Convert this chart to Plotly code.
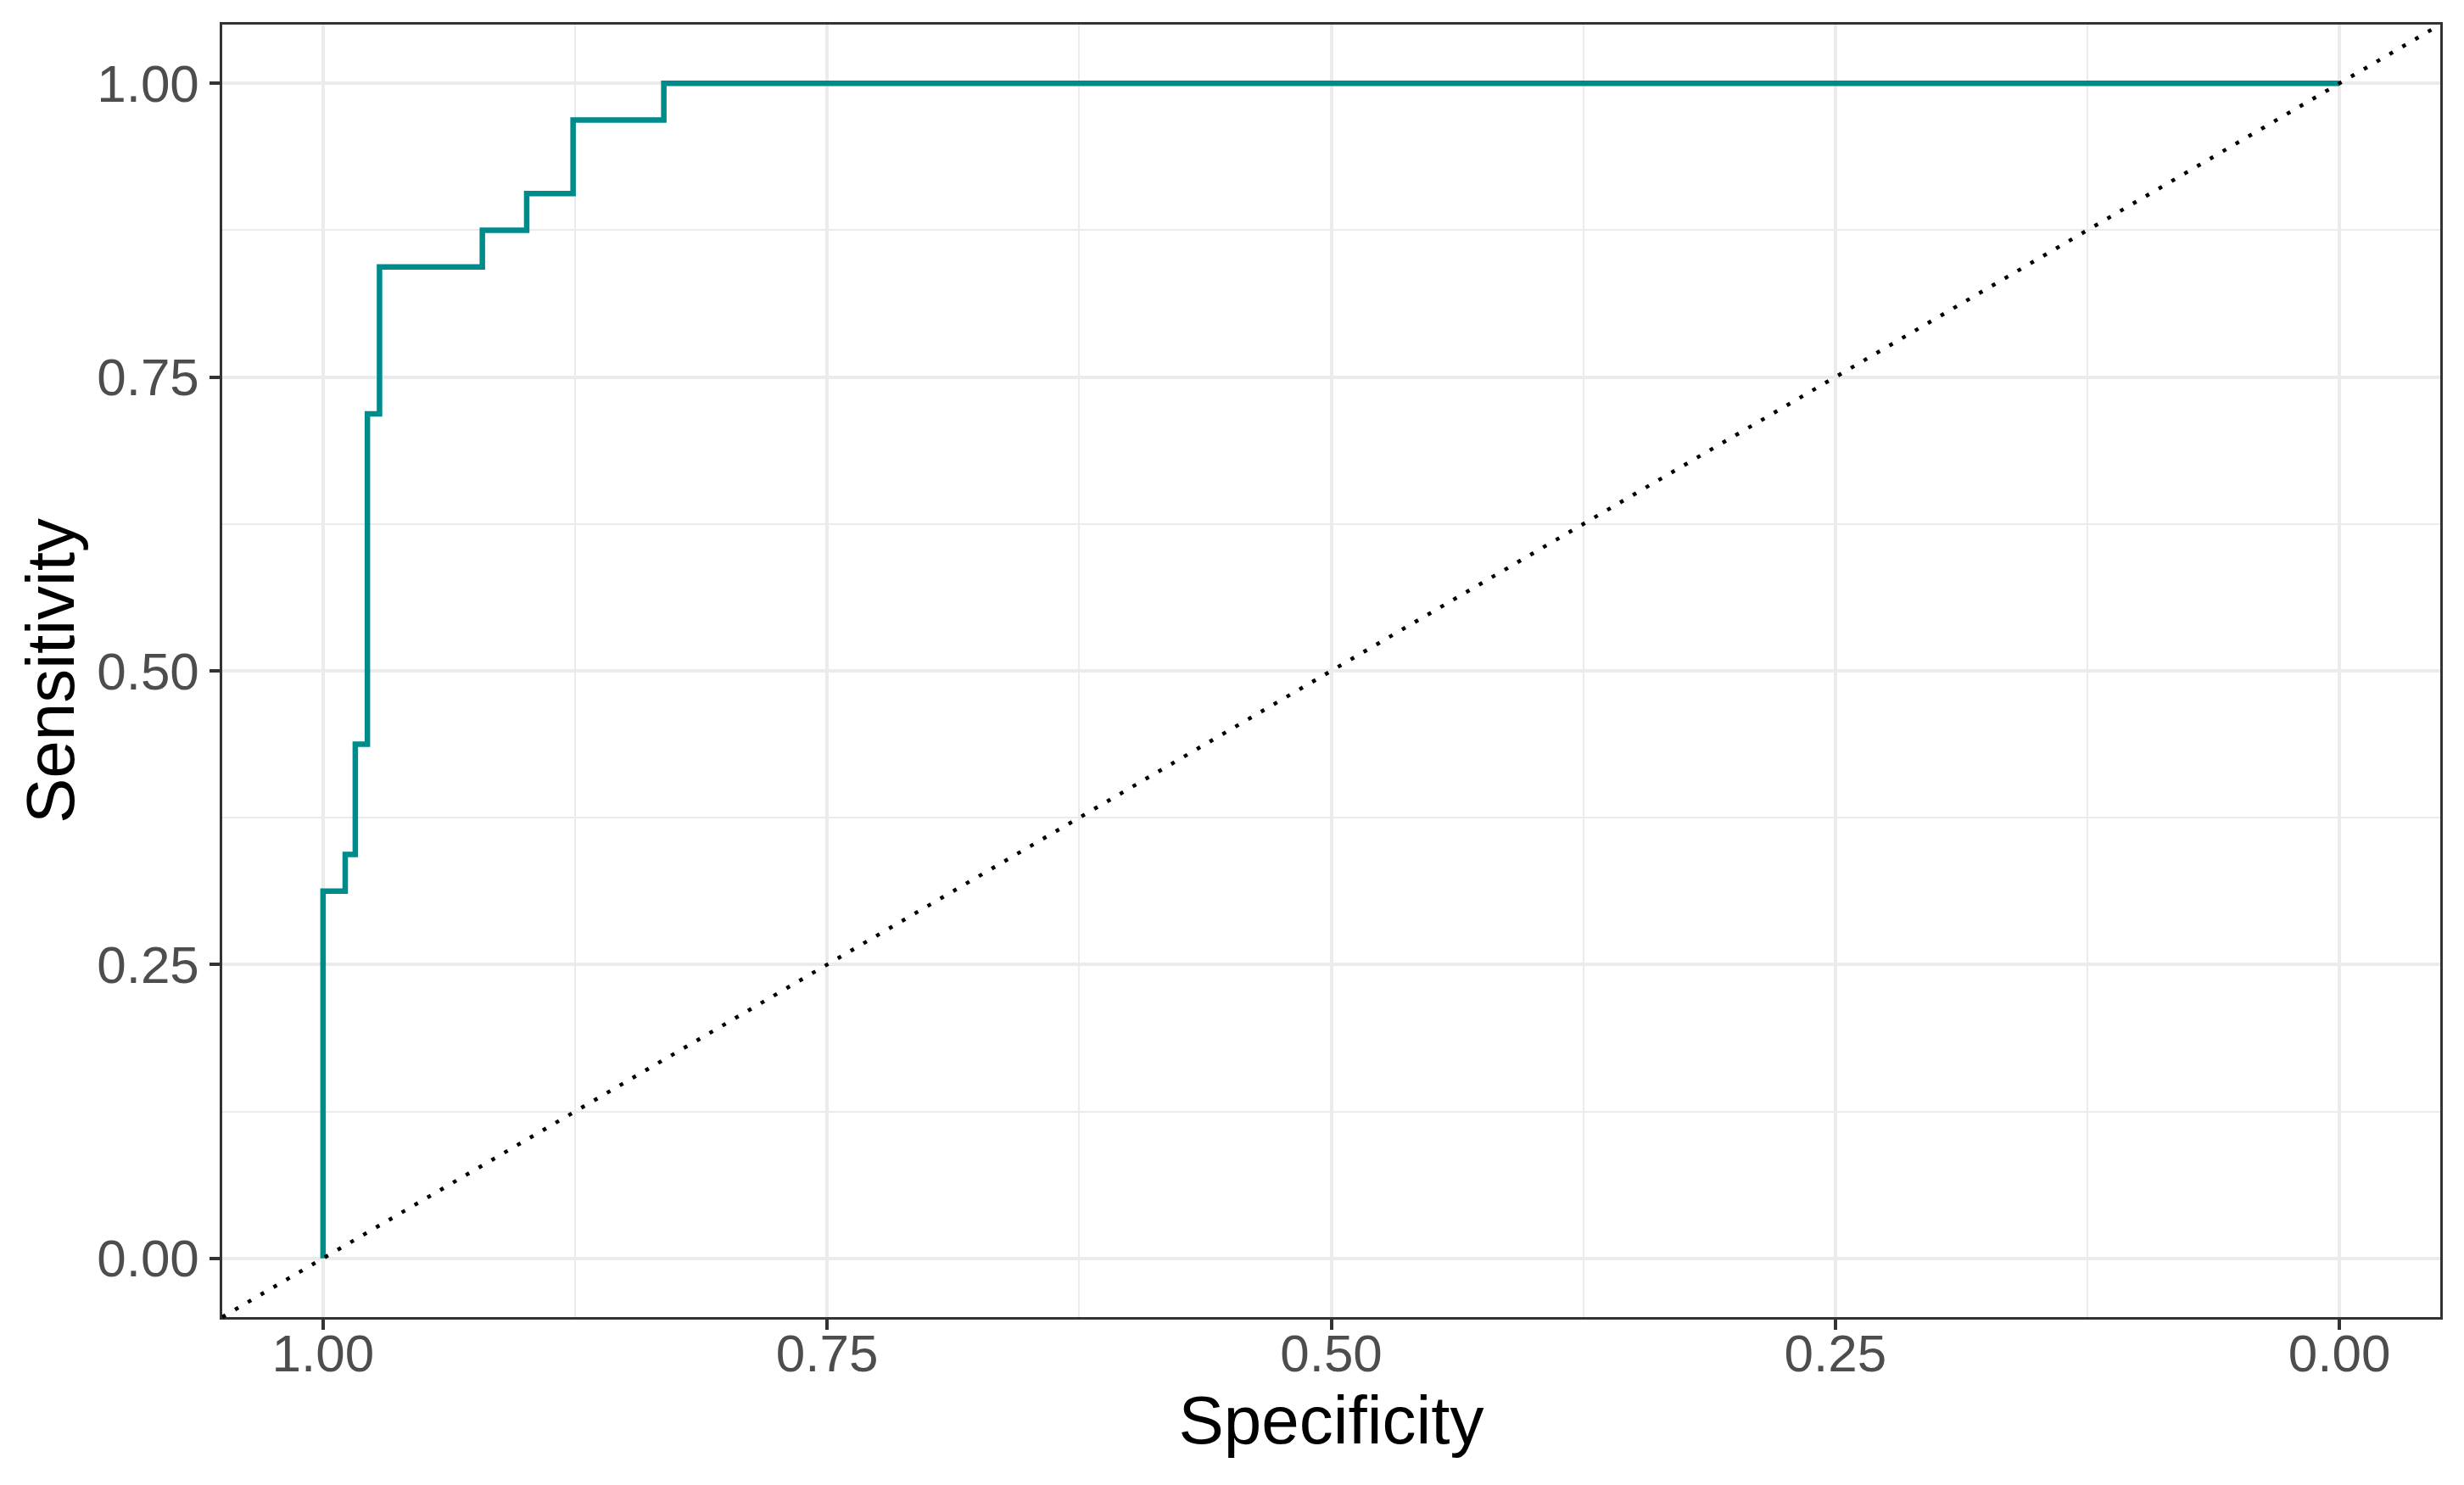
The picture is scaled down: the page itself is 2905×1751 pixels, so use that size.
import plotly.graph_objects as go

# ROC curve points (threshold corners)
specificity = [1.000, 1.000, 0.989, 0.984, 0.978, 0.972, 0.921, 0.899, 0.876, 0.831, 0.000]
sensitivity = [0.000, 0.3125, 0.34375, 0.4375, 0.71875, 0.84375, 0.875, 0.90625, 0.96875, 1.000, 1.000]

tick_vals = [0.0, 0.25, 0.5, 0.75, 1.0]
tick_text = ["0.00", "0.25", "0.50", "0.75", "1.00"]
minor_vals = [0.125, 0.375, 0.625, 0.875]

FONT = "Liberation Sans, Arial, sans-serif"
GRID = "#EBEBEB"
BORDER = "#333333"

fig = go.Figure()
fig.add_trace(go.Scatter(
    x=specificity, y=sensitivity, mode="lines",
    line=dict(color="#008B8B", width=6.5, shape="hv"),
    showlegend=False, hoverinfo="skip",
))

# diagonal reference line (abline intercept 1, slope 1 on reversed specificity axis)
fig.add_shape(type="line", xref="paper", yref="paper", x0=0, y0=0, x1=1, y1=1,
              line=dict(color="black", width=4.5, dash="4.5px,13px"), layer="above")

axis_common = dict(
    tickmode="array", tickvals=tick_vals, ticktext=tick_text,
    showgrid=True, gridcolor=GRID, gridwidth=4,
    minor=dict(tickmode="array", tickvals=minor_vals, showgrid=True, gridcolor=GRID, gridwidth=2, ticks=""),
    zeroline=False,
    showline=True, mirror=True, linecolor=BORDER, linewidth=2.5,
    ticks="outside", ticklen=12, tickwidth=4, tickcolor=BORDER,
    tickfont=dict(family=FONT, size=62, color="#4D4D4D"),
)

fig.update_xaxes(range=[1.05, -0.05], ticklabelstandoff=-25,
                 title=dict(text="Specificity", font=dict(family=FONT, size=80, color="black"), standoff=16),
                 **axis_common)
fig.update_yaxes(range=[-0.05, 1.05],
                 title=dict(text="Sensitivity", font=dict(family=FONT, size=80, color="black"), standoff=1),
                 **axis_common)

# page body has an 8px margin, so the figure is shrunk by 8px to fill the window exactly
fig.update_layout(
    width=2897, height=1743,
    margin=dict(l=254, r=28, t=21, b=198),
    plot_bgcolor="white", paper_bgcolor="white",
    font=dict(family=FONT),
)

fig.write_html("out.html")
